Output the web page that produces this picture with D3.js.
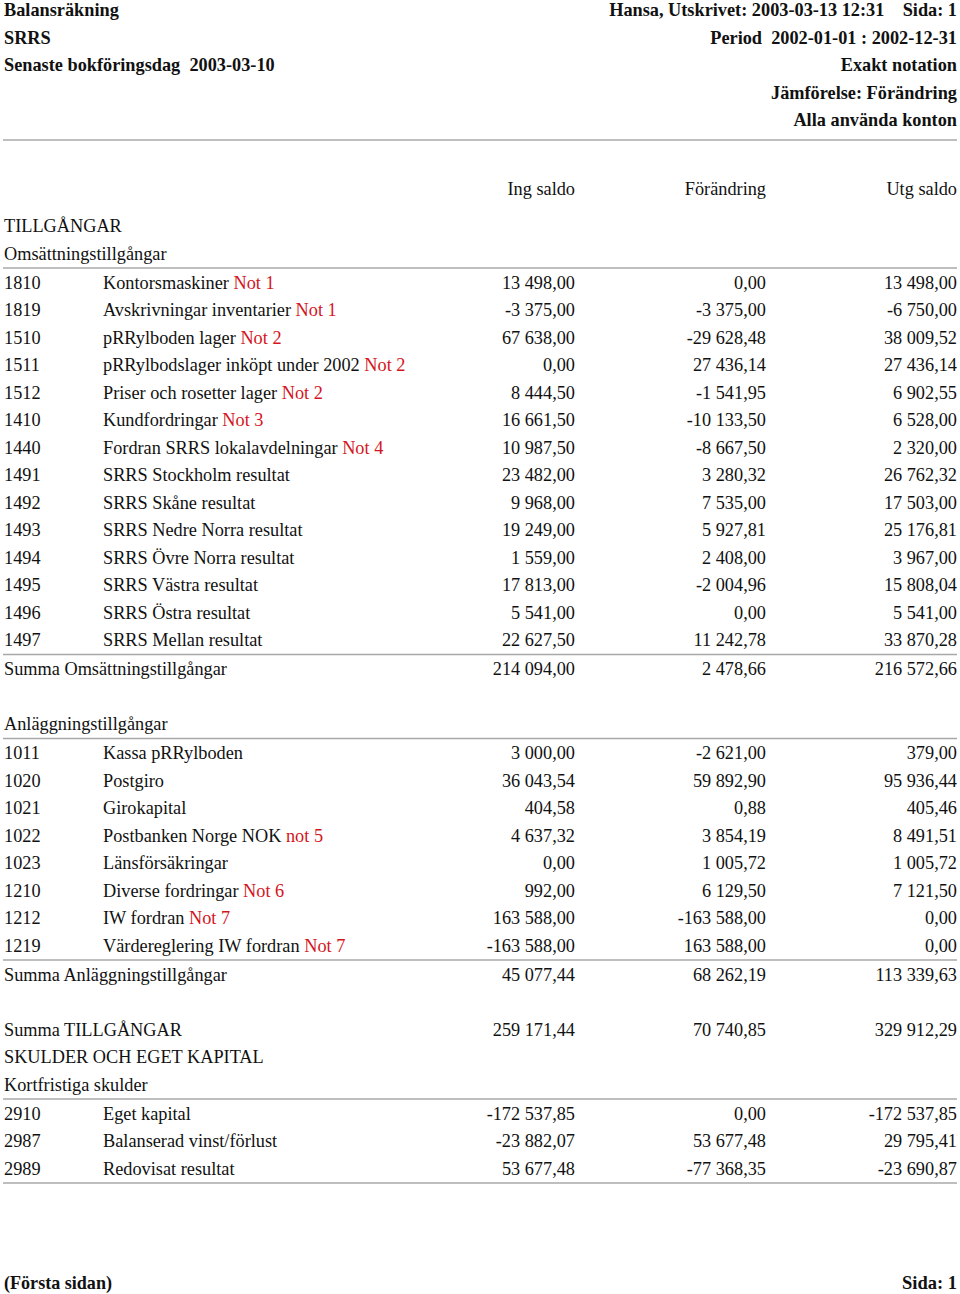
<!DOCTYPE html>
<html><head><meta charset="utf-8">
<script src="https://cdn.jsdelivr.net/npm/d3@7"></script>
<style>
html,body{margin:0;padding:0;background:#fff;}
svg{display:block;}
text{font-family:"Liberation Serif","Times New Roman",serif;font-size:18.3px;fill:#111;}
.b{font-weight:bold;}
.note{fill:#d4141c;}
</style></head>
<body>
<script>
// ---------- data ----------
const headerLeft = ["Balansräkning", "SRRS", "Senaste bokföringsdag  2003-03-10"];
const headerRight = ["Hansa, Utskrivet: 2003-03-13 12:31    Sida: 1", "Period  2002-01-01 : 2002-12-31", "Exakt notation", "Jämförelse: Förändring", "Alla använda konton"];
const columnHeads = ["Ing saldo", "Förändring", "Utg saldo"];

const omsCodes = ["1810","1819","1510","1511","1512","1410","1440","1491","1492","1493","1494","1495","1496","1497"];
const omsNames = ["Kontorsmaskiner","Avskrivningar inventarier","pRRylboden lager","pRRylbodslager inköpt under 2002","Priser och rosetter lager","Kundfordringar","Fordran SRRS lokalavdelningar","SRRS Stockholm resultat","SRRS Skåne resultat","SRRS Nedre Norra resultat","SRRS Övre Norra resultat","SRRS Västra resultat","SRRS Östra resultat","SRRS Mellan resultat"];
const omsNotes = ["Not 1","Not 1","Not 2","Not 2","Not 2","Not 3","Not 4","","","","","","",""];
const omsIng = [13498.00,-3375.00,67638.00,0.00,8444.50,16661.50,10987.50,23482.00,9968.00,19249.00,1559.00,17813.00,5541.00,22627.50];
const omsChg = [0.00,-3375.00,-29628.48,27436.14,-1541.95,-10133.50,-8667.50,3280.32,7535.00,5927.81,2408.00,-2004.96,0.00,11242.78];
const omsUtg = [13498.00,-6750.00,38009.52,27436.14,6902.55,6528.00,2320.00,26762.32,17503.00,25176.81,3967.00,15808.04,5541.00,33870.28];
const omsSum = [214094.00, 2478.66, 216572.66];

const anlCodes = ["1011","1020","1021","1022","1023","1210","1212","1219"];
const anlNames = ["Kassa pRRylboden","Postgiro","Girokapital","Postbanken Norge NOK","Länsförsäkringar","Diverse fordringar","IW fordran","Värdereglering IW fordran"];
const anlNotes = ["","","","not 5","","Not 6","Not 7","Not 7"];
const anlIng = [3000.00,36043.54,404.58,4637.32,0.00,992.00,163588.00,-163588.00];
const anlChg = [-2621.00,59892.90,0.88,3854.19,1005.72,6129.50,-163588.00,163588.00];
const anlUtg = [379.00,95936.44,405.46,8491.51,1005.72,7121.50,0.00,0.00];
const anlSum = [45077.44, 68262.19, 113339.63];

const tillgSum = [259171.44, 70740.85, 329912.29];

const kfsCodes = ["2910","2987","2989"];
const kfsNames = ["Eget kapital","Balanserad vinst/förlust","Redovisat resultat"];
const kfsNotes = ["","",""];
const kfsIng = [-172537.85,-23882.07,53677.48];
const kfsChg = [0.00,53677.48,-77368.35];
const kfsUtg = [-172537.85,29795.41,-23690.87];

const footerLeft = "(Första sidan)";
const footerRight = "Sida: 1";

// ---------- layout ----------
const W = 960, H = 1294;
const svg = d3.select("body").append("svg").attr("width", W).attr("height", H);
const fmt = d3.formatLocale({decimal: ",", thousands: " ", grouping: [3], currency: ["", ""], minus: "-"}).format(",.2f");

const colX = d3.scaleOrdinal().domain(["code","name","ing","chg","utg"]).range([4, 103, 575, 766, 957]);
const lineY = d3.scaleLinear().domain([0, 1]).range([226, 253.5]); // text-line slot -> centre y
const BASE = 6.2; // centre -> baseline

// build a flat list of rows
const items = [];
let slot = 0, extra = 0;
function text(label) { items.push({type: "label", label, slot, extra}); slot++; }
function rule() { items.push({type: "rule", slot, extra}); extra += 1.5; }
function blank() { slot++; }
function account(codes, names, notes, ing, chg, utg) {
  codes.forEach((c, i) => { items.push({type: "acct", code: c, name: names[i], note: notes[i], vals: [ing[i], chg[i], utg[i]], slot, extra}); slot++; });
}
function sum(label, vals) { items.push({type: "sum", label, vals, slot, extra}); slot++; }

text("TILLGÅNGAR");
text("Omsättningstillgångar");
rule();
account(omsCodes, omsNames, omsNotes, omsIng, omsChg, omsUtg);
rule();
sum("Summa Omsättningstillgångar", omsSum);
blank();
text("Anläggningstillgångar");
rule();
account(anlCodes, anlNames, anlNotes, anlIng, anlChg, anlUtg);
rule();
sum("Summa Anläggningstillgångar", anlSum);
blank();
sum("Summa TILLGÅNGAR", tillgSum);
text("SKULDER OCH EGET KAPITAL");
text("Kortfristiga skulder");
rule();
account(kfsCodes, kfsNames, kfsNotes, kfsIng, kfsChg, kfsUtg);
rule();

const yOf = d => lineY(d.slot) + d.extra;

// ---------- header ----------
const hdrY = d3.scaleLinear().domain([0, 1]).range([10, 37.5]);
svg.selectAll("text.hl").data(headerLeft).join("text").attr("class", "hl b")
  .attr("x", 4).attr("y", (d, i) => hdrY(i) + BASE).text(d => d).style("white-space", "pre");
svg.selectAll("text.hr").data(headerRight).join("text").attr("class", "hr b")
  .attr("x", 957).attr("text-anchor", "end").attr("y", (d, i) => hdrY(i) + BASE).text(d => d).style("white-space", "pre");
svg.append("line").attr("x1", 3).attr("x2", 957).attr("y1", 140).attr("y2", 140)
  .attr("stroke", "#a8a8a8").attr("stroke-width", 1.5);

svg.selectAll("text.ch").data(columnHeads).join("text").attr("class", "ch")
  .attr("x", (d, i) => colX(["ing","chg","utg"][i])).attr("text-anchor", "end")
  .attr("y", 189 + BASE).text(d => d);

// ---------- body ----------
items.filter(d => d.type === "rule").forEach(d => {
  const y = lineY(d.slot - 1) + d.extra + 14.5;
  svg.append("line").attr("x1", 3).attr("x2", 957).attr("y1", y).attr("y2", y)
    .attr("stroke", "#a8a8a8").attr("stroke-width", 1.5);
});

items.filter(d => d.type === "label").forEach(d => {
  svg.append("text").attr("x", colX("code")).attr("y", yOf(d) + BASE).text(d.label);
});

items.filter(d => d.type === "acct").forEach(d => {
  const y = yOf(d) + BASE;
  svg.append("text").attr("x", colX("code")).attr("y", y).text(d.code);
  const t = svg.append("text").attr("x", colX("name")).attr("y", y);
  t.append("tspan").text(d.name);
  if (d.note) t.append("tspan").attr("class", "note").text(" " + d.note);
  ["ing","chg","utg"].forEach((k, i) => {
    svg.append("text").attr("x", colX(k)).attr("y", y).attr("text-anchor", "end").text(fmt(d.vals[i]));
  });
});

items.filter(d => d.type === "sum").forEach(d => {
  const y = yOf(d) + BASE;
  svg.append("text").attr("x", colX("code")).attr("y", y).text(d.label);
  ["ing","chg","utg"].forEach((k, i) => {
    svg.append("text").attr("x", colX(k)).attr("y", y).attr("text-anchor", "end").text(fmt(d.vals[i]));
  });
});

// ---------- footer ----------
svg.append("text").attr("class", "b").attr("x", 4).attr("y", 1289).style("font-size", "19px")
  .attr("textLength", 108).attr("lengthAdjust", "spacingAndGlyphs").text(footerLeft);
svg.append("text").attr("class", "b").attr("x", 957).attr("y", 1289).attr("text-anchor", "end").style("font-size", "19px")
  .attr("textLength", 55).attr("lengthAdjust", "spacingAndGlyphs").text(footerRight);
</script>
</body></html>
